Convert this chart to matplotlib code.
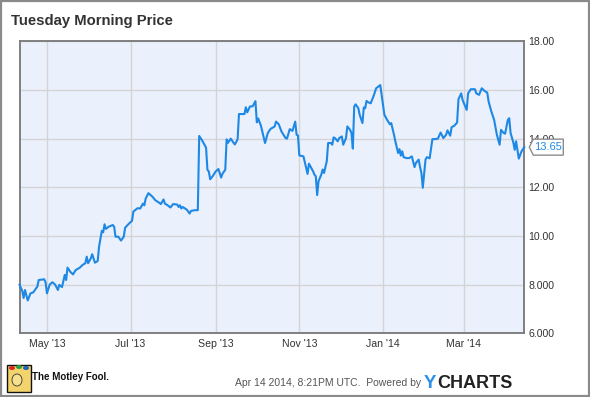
import matplotlib
matplotlib.use("Agg")
import matplotlib.pyplot as plt
import matplotlib.dates as mdates
import matplotlib.patches as mpatches
from matplotlib.transforms import blended_transform_factory, offset_copy, Affine2D, ScaledTranslation
import numpy as np
import pandas as pd

title = "Tuesday Morning Price"

dates = [
    "2013-04-11", "2013-04-13", "2013-04-14", "2013-04-15", "2013-04-17", "2013-04-19", "2013-04-21",
    "2013-04-24", "2013-04-25", "2013-04-29", "2013-04-30", "2013-05-01", "2013-05-03", "2013-05-05",
    "2013-05-07", "2013-05-09", "2013-05-10", "2013-05-12", "2013-05-14", "2013-05-15", "2013-05-16",
    "2013-05-18", "2013-05-20", "2013-05-22", "2013-05-25", "2013-05-27", "2013-05-29", "2013-05-30",
    "2013-05-31", "2013-06-02", "2013-06-03", "2013-06-05", "2013-06-07", "2013-06-08", "2013-06-10",
    "2013-06-11", "2013-06-12", "2013-06-13", "2013-06-15", "2013-06-18", "2013-06-19", "2013-06-20",
    "2013-06-22", "2013-06-24", "2013-06-26", "2013-06-27", "2013-06-30", "2013-07-02", "2013-07-03",
    "2013-07-06",
    "2013-07-08", "2013-07-10", "2013-07-11", "2013-07-12", "2013-07-14", "2013-07-17", "2013-07-19",
    "2013-07-22", "2013-07-23", "2013-07-25", "2013-07-26", "2013-07-28", "2013-07-30", "2013-08-01",
    "2013-08-04", "2013-08-05", "2013-08-06", "2013-08-07", "2013-08-08", "2013-08-11", "2013-08-13",
    "2013-08-14", "2013-08-17", "2013-08-19", "2013-08-20", "2013-08-22", "2013-08-25", "2013-08-26",
    "2013-08-27", "2013-08-28", "2013-08-30", "2013-09-01", "2013-09-03", "2013-09-05", "2013-09-06",
    "2013-09-08", "2013-09-09", "2013-09-10", "2013-09-12", "2013-09-14", "2013-09-15", "2013-09-17",
    "2013-09-18", "2013-09-22", "2013-09-23", "2013-09-24", "2013-09-26", "2013-09-28", "2013-09-30",
    "2013-10-01", "2013-10-02", "2013-10-04",
    "2013-10-07", "2013-10-09", "2013-10-11", "2013-10-14", "2013-10-15", "2013-10-17", "2013-10-19",
    "2013-10-22", "2013-10-23", "2013-10-25", "2013-10-27", "2013-10-29", "2013-10-30", "2013-10-31",
    "2013-11-01", "2013-11-04", "2013-11-06", "2013-11-07", "2013-11-08", "2013-11-11", "2013-11-12",
    "2013-11-13", "2013-11-14", "2013-11-15", "2013-11-17", "2013-11-18", "2013-11-19", "2013-11-21",
    "2013-11-22", "2013-11-24", "2013-11-25", "2013-11-26", "2013-11-27", "2013-11-29", "2013-11-30",
    "2013-12-02", "2013-12-03", "2013-12-05", "2013-12-06", "2013-12-07", "2013-12-08", "2013-12-09",
    "2013-12-10", "2013-12-11", "2013-12-12", "2013-12-14", "2013-12-15", "2013-12-17", "2013-12-18",
    "2013-12-19", "2013-12-20", "2013-12-21", "2013-12-23", "2013-12-25", "2013-12-27", "2013-12-29",
    "2013-12-30", "2013-12-31", "2014-01-02", "2014-01-04", "2014-01-06", "2014-01-07", "2014-01-09",
    "2014-01-10", "2014-01-12", "2014-01-13", "2014-01-14", "2014-01-15", "2014-01-16", "2014-01-18",
    "2014-01-20", "2014-01-22", "2014-01-24", "2014-01-25", "2014-01-27", "2014-01-28", "2014-01-29",
    "2014-01-30", "2014-02-01", "2014-02-02", "2014-02-04", "2014-02-06", "2014-02-08", "2014-02-10",
    "2014-02-12", "2014-02-14", "2014-02-16", "2014-02-17", "2014-02-19", "2014-02-20", "2014-02-22",
    "2014-02-24", "2014-02-25", "2014-02-27", "2014-02-28", "2014-03-03", "2014-03-04", "2014-03-06",
    "2014-03-09", "2014-03-10", "2014-03-12", "2014-03-14", "2014-03-16", "2014-03-18", "2014-03-19",
    "2014-03-21", "2014-03-23", "2014-03-25", "2014-03-27", "2014-03-28", "2014-03-30", "2014-03-31",
    "2014-04-02", "2014-04-03", "2014-04-04", "2014-04-06", "2014-04-07", "2014-04-08", "2014-04-10",
    "2014-04-12", "2014-04-14",
]

prices = [
    8.00, 7.74, 7.45, 7.78, 7.35, 7.64, 7.68,
    7.92, 8.19, 8.22, 8.10, 7.64, 8.00, 8.10,
    8.00, 7.78, 7.99, 7.90, 8.40, 8.19, 8.70,
    8.53, 8.42, 8.60, 8.70, 8.81, 8.88, 9.15,
    8.88, 9.08, 9.25, 8.90, 8.97, 9.56, 10.21,
    10.15, 10.48, 10.29, 10.38, 10.45, 10.38, 9.97,
    9.97, 9.81, 9.97, 10.34, 10.52, 10.62, 11.00,
    11.14,
    11.13, 11.33, 11.26, 11.54, 11.76, 11.61, 11.47,
    11.36, 11.31, 11.50, 11.33, 11.26, 11.17, 11.31,
    11.29, 11.19, 11.26, 11.13, 11.19, 11.08, 10.92,
    11.03, 11.06, 11.06, 14.11, 13.94, 13.63, 12.72,
    12.65, 12.33, 12.47, 12.65, 12.75, 12.40, 12.56,
    12.72, 13.97, 13.83, 14.00, 13.83, 13.76, 13.97,
    15.01, 15.01, 15.29, 15.08, 15.32, 15.33, 15.54,
    14.67, 14.83, 14.53,
    13.82, 14.23, 14.40, 14.50, 14.70, 14.59, 14.29,
    14.02, 14.00, 14.39, 14.32, 14.70, 14.16, 14.13,
    13.31, 13.27, 12.79, 12.55, 12.97, 12.66, 12.52,
    12.45, 11.68, 12.25, 12.52, 12.73, 12.59, 13.07,
    13.82, 13.82, 13.75, 14.05, 14.02, 13.89, 14.02,
    14.09, 13.75, 14.02, 14.50, 14.43, 14.36, 14.23,
    13.59, 15.32, 15.41, 15.25, 14.98, 14.64, 15.28,
    15.25, 15.55, 15.50, 15.45, 15.73, 16.07, 16.16,
    16.20, 15.80, 14.98, 14.77, 14.59, 14.64, 14.16,
    13.89, 13.41, 13.57, 13.30, 13.48, 13.24, 13.20,
    13.20, 13.27, 12.83, 13.00, 13.14, 12.83, 12.59,
    11.98, 13.14, 13.24, 13.19, 13.98, 13.98, 14.00,
    14.25, 14.02, 14.16, 14.34, 14.12, 14.47, 14.53,
    14.66, 15.62, 15.86, 15.59, 15.18, 15.86, 16.03,
    16.03, 15.86, 15.80, 16.07, 15.96, 15.89, 15.52,
    15.11, 14.77, 14.16, 13.75, 14.36, 14.23, 14.20,
    14.77, 14.84, 14.23, 13.84, 13.54, 13.89, 13.18,
    13.48, 13.65,
]

x_tick_dates = ["2013-05-01", "2013-07-01", "2013-09-01", "2013-11-01", "2014-01-01", "2014-03-01"]
x_tick_labels = ["May '13", "Jul '13", "Sep '13", "Nov '13", "Jan '14", "Mar '14"]
y_ticks = [6, 8, 10, 12, 14, 16, 18]
y_tick_labels = ["6.000", "8.000", "10.00", "12.00", "14.00", "16.00", "18.00"]
x_range = ["2013-04-11", "2014-04-14"]
last_label = "13.65"
footer_text = "Apr 14 2014, 8:21PM UTC.  Powered by"

FONT = "Liberation Sans"
LINE_C = "#1E88E5"

fig = plt.figure(figsize=(5.90, 3.97), dpi=100, facecolor="white")
ax = fig.add_axes([19.5 / 590, 63.7 / 397, (524.3 - 19.5) / 590, (333.3 - 41.3) / 397])
ax.set_facecolor("#EAF0FC")

dt = pd.to_datetime(dates)
ax.plot(dt, prices, color=LINE_C, lw=1.5, solid_joinstyle="round", zorder=3, clip_on=False)

ax.set_xlim(pd.to_datetime(x_range[0]), pd.to_datetime(x_range[1]))
ax.set_ylim(6, 18)
ax.set_xticks(pd.to_datetime(x_tick_dates))
ax.set_xticklabels(x_tick_labels)
ax.set_yticks(y_ticks)
ax.set_yticklabels(y_tick_labels)
ax.yaxis.tick_right()
ax.tick_params(axis="both", length=0, labelsize=7.6, labelcolor="#333333")
ax.tick_params(axis="y", pad=3)
ax.tick_params(axis="x", pad=4)
for lab in ax.get_xticklabels() + ax.get_yticklabels():
    lab.set_fontfamily(FONT)
ax.grid(True, color="#D4D4D4", lw=1.0)
ax.set_axisbelow(True)
for s in ax.spines.values():
    s.set_color("#7F7F7F")
    s.set_linewidth(1.4)

# last value marker box
base = blended_transform_factory(ax.transAxes, ax.transData)
box_tr = Affine2D() + ScaledTranslation(1.0, prices[-1], base)
poly = mpatches.Polygon([(5, 0), (9, 8), (39, 8), (39, -8), (9, -8)], closed=True,
                        facecolor="white", edgecolor="#8C8C8C", lw=1.0,
                        transform=box_tr, clip_on=False, zorder=5)
ax.add_patch(poly)
ax.text(24, 0, last_label, transform=box_tr, ha="center", va="center",
        fontsize=8, color=LINE_C, family=FONT, zorder=6, clip_on=False)

# title
fig.text(11 / 590, 1 - 21 / 397, title, ha="left", va="center", fontsize=10.7,
         fontweight="bold", color="#333333", family=FONT)

# footer: logo approximation
fig.patches.append(mpatches.Rectangle((7 / 590, 5 / 397), 24 / 590, 27 / 397,
                                      transform=fig.transFigure, facecolor="#F3D36B",
                                      edgecolor="#111111", lw=1.0))
for (cx, cy, c) in [(12, 29, "#D62828"), (19, 30, "#2A9D3F"), (26, 29, "#1F5FBF")]:
    fig.patches.append(mpatches.Circle((cx / 590, cy / 397), 3 / 590,
                                       transform=fig.transFigure, facecolor=c, edgecolor="none"))
fig.patches.append(mpatches.Ellipse((17 / 590, 17 / 397), 10 / 590, 12 / 397,
                                    transform=fig.transFigure, facecolor="#F7E08E",
                                    edgecolor="#333333", lw=0.6))
fig.text(32 / 590, 1 - 377 / 397, "The Motley Fool.", ha="left", va="center",
         fontsize=7.0, fontweight="bold", color="#111111", family=FONT)

fig.text(421 / 590, 1 - 383 / 397, footer_text, ha="right", va="center",
         fontsize=7.5, color="#555555", family=FONT)
fig.text(424 / 590, 1 - 383 / 397, "Y", ha="left", va="center", fontsize=13.5,
         fontweight="bold", color="#2C8FE8", family=FONT)
fig.text(437 / 590, 1 - 383 / 397, "CHARTS", ha="left", va="center", fontsize=13,
         fontweight="bold", color="#222222", family=FONT)

# outer frame
fig.patches.append(mpatches.Rectangle((0.0015, 0.002), 0.997, 0.996, transform=fig.transFigure,
                                      fill=False, edgecolor="#8A8A8A", lw=1.6))

fig.savefig("out.png", dpi=100, facecolor="white")
